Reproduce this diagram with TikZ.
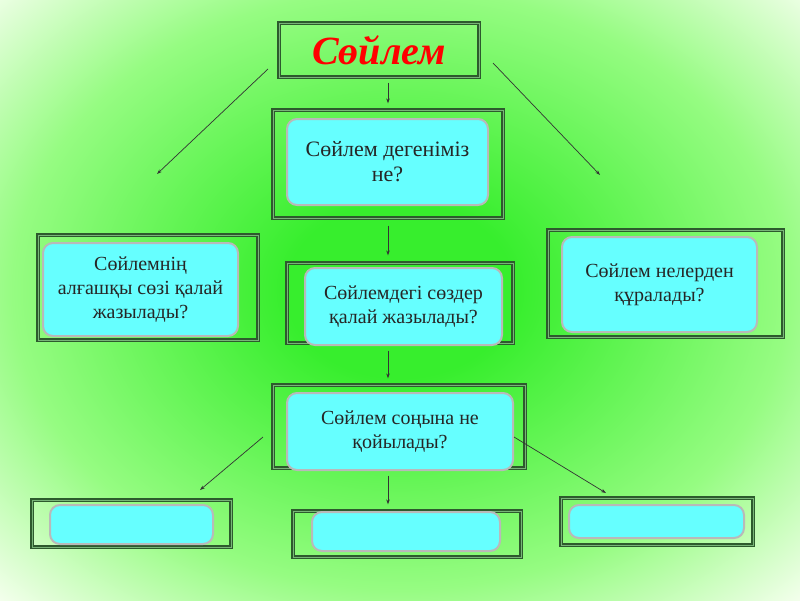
\documentclass[tikz,border=0pt]{standalone}
\usepackage{fontspec}
\setmainfont{Liberation Serif}
\usetikzlibrary{arrows.meta}
\definecolor{framegreen}{RGB}{45,90,45}
\definecolor{gapgreen}{RGB}{120,180,120}
\definecolor{boxcyan}{RGB}{102,255,255}
\definecolor{bggreen}{RGB}{55,238,45}
\definecolor{midgreen}{RGB}{150,252,130}
\definecolor{bgpale}{RGB}{245,255,238}
\pgfdeclareradialshading{glow}{\pgfpoint{0bp}{0bp}}{color(0bp)=(bggreen); color(5bp)=(bggreen);
    color(17bp)=(midgreen); color(25bp)=(bgpale); color(50bp)=(bgpale)}
\begin{document}
\begin{tikzpicture}[x=1pt, y=-1pt]
    % Define styles
    \tikzset{
        frame/.style={draw=framegreen, line width=1.3pt, double=gapgreen, double distance=0.9pt, inner sep=0pt},
        question/.style={draw=gray!55, line width=2pt, fill=boxcyan, rounded corners=10pt, inner sep=0pt,
            align=center, text=black!85, font=\fontsize{20}{24}\selectfont},
        link/.style={-{Stealth[length=5pt,width=3.5pt]}, black!80, line width=0.7pt}
    }

    % Background
    \useasboundingbox (0,0) rectangle (800,600);
    \begin{scope}
        \clip (0,0) rectangle (800,600);
        \shade[shading=glow] (400,290) ellipse (570 and 440);
    \end{scope}

    % Frames
    \node[frame, minimum width=200, minimum height=54, text=red,
        font=\fontsize{40}{48}\selectfont\bfseries\itshape] (title) at (379,50) {Сөйлем};
    \node[frame, minimum width=230, minimum height=108] (fq1) at (388,164) {};
    \node[frame, minimum width=220, minimum height=105] (fleft) at (148,287.5) {};
    \node[frame, minimum width=235, minimum height=107] (fright) at (665.5,283.5) {};
    \node[frame, minimum width=226, minimum height=80] (fq3) at (400,303) {};
    \node[frame, minimum width=252, minimum height=83] (fq4) at (399,426.5) {};
    \node[frame, minimum width=199, minimum height=47] (fbl) at (131.5,523.5) {};
    \node[frame, minimum width=228, minimum height=46] (fbc) at (407,534) {};
    \node[frame, minimum width=192, minimum height=47] (fbr) at (657,521.5) {};

    % Questions
    \node[question, minimum width=201, minimum height=86, font=\fontsize{22}{25}\selectfont] (q1) at (387.5,162) {Сөйлем дегеніміз\\не?};
    \node[question, minimum width=195, minimum height=93] (qleft) at (140.5,289.5) {Сөйлемнің\\алғашқы сөзі қалай\\жазылады?};
    \node[question, minimum width=195, minimum height=95] (qright) at (659.5,284.5) {Сөйлем нелерден\\құралады?};
    \node[question, minimum width=197, minimum height=77] (q3) at (403.5,306.5) {Сөйлемдегі сөздер\\қалай жазылады?};
    \node[question, minimum width=226, minimum height=77] (q4) at (400,431.5) {Сөйлем соңына не\\қойылады?};
    \node[question, minimum width=163, minimum height=39] (bl) at (131.5,524.5) {};
    \node[question, minimum width=188, minimum height=39] (bc) at (406,531.5) {};
    \node[question, minimum width=175, minimum height=33] (br) at (656.5,521.5) {};

    % Arrows
    \coordinate (axis) at (388,0);
    \coordinate (tl) at (268,69);
    \coordinate (tlend) at (157,174);
    \coordinate (tr) at (493,63);
    \coordinate (trend) at (600,175);
    \coordinate (bl1) at (263,437);
    \coordinate (blend) at (200,490);
    \coordinate (br1) at (514,437);
    \coordinate (brend) at (606,493);
    \draw[link, shorten <=5pt, shorten >=6pt] (title.south -| axis) -- (fq1.north -| axis);
    \draw[link, shorten <=7pt, shorten >=7pt] (fq1.south -| axis) -- (fq3.north -| axis);
    \draw[link, shorten <=7pt, shorten >=6pt] (fq3.south -| axis) -- (fq4.north -| axis);
    \draw[link, shorten <=7pt, shorten >=6pt] (fq4.south -| axis) -- (fbc.north -| axis);
    \draw[link] (tl) -- (tlend);
    \draw[link] (tr) -- (trend);
    \draw[link] (bl1) -- (blend);
    \draw[link] (br1) -- (brend);
\end{tikzpicture}
\end{document}
